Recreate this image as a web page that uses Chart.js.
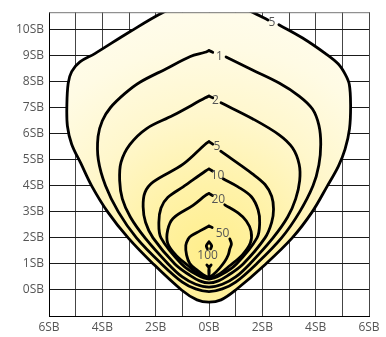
<!DOCTYPE html>
<html>
<head>
<meta charset="utf-8">
<script src="https://cdn.jsdelivr.net/npm/chart.js@4.4.0/dist/chart.umd.min.js"></script>
<style>
  html, body { margin: 0; padding: 0; background: #fff; }
</style>
</head>
<body>
<canvas id="isolux" width="386" height="337"></canvas>
<script>
// tick values (in SB units)
const xTickValues = [-6, -5, -4, -3, -2, -1, 0, 1, 2, 3, 4, 5, 6];
const yTickValues = [-1, 0, 1, 2, 3, 4, 5, 6, 7, 8, 9, 10];

// isolux outlines, [x, y] in SB; null = gap left for the level label
const c05 = [[0, 11.45], [1.63, 10.67], [2.21, 10.37], null, [2.62, 10.19], [3.51, 9.68], [4.37, 9.08], [4.85, 8.68],
  [5.1, 8.3], [5.26, 7.9], [5.31, 7.1], [5.27, 6.2], [5.1, 5.4], [4.85, 4.75], [4.44, 4.0], [3.87, 3.0], [3.12, 2.0],
  [2.13, 1.0], [1.0, 0.0], [0.45, -0.38], [0, -0.47], [-0.45, -0.38], [-1.03, 0.0], [-2.09, 1.0],
  [-3.03, 2.0], [-3.8, 3.0], [-4.4, 4.0], [-4.8, 4.85], [-5.15, 5.6], [-5.31, 6.3], [-5.33, 7.1],
  [-5.28, 7.94], [-5.15, 8.39], [-4.84, 8.76], [-4.28, 9.08], [-3.03, 9.88], [-1.71, 10.67], [0, 11.45]];
const c1 = [[0, 9.2], [0.14, 9.13], null, [0.64, 8.95], [1.63, 8.45], [2.63, 7.95], [3.38, 7.45], [3.88, 6.95],
  [4.12, 6.33], [4.19, 5.6], [4.12, 4.8], [3.9, 4.0], [3.4, 3.0], [2.72, 2.0], [1.78, 1.0], [1.0, 0.3],
  [0.5, 0.04], [0, -0.06], [-0.5, 0.04], [-1.0, 0.3], [-1.78, 1.0], [-2.72, 2.0], [-3.4, 3.0], [-3.88, 4.0],
  [-4.15, 5.0], [-4.16, 5.9], [-4.0, 6.5], [-3.7, 7.0], [-3.15, 7.55], [-2.59, 7.98], [-1.6, 8.5], [-0.7, 8.97],
  [-0.15, 9.13], [0, 9.2]];
const c2 = [[0, 7.45], [0.14, 7.38], null, [0.45, 7.19], [1.63, 6.58], [2.63, 5.96], [3.13, 5.46], [3.38, 4.83],
  [3.4, 4.2], [3.25, 3.5], [2.95, 2.8], [2.4, 2.0], [1.53, 1.0], [1.0, 0.5], [0.5, 0.22], [0, 0.11],
  [-0.5, 0.22], [-1.0, 0.5], [-1.53, 1.0], [-2.4, 2.0], [-2.95, 2.8], [-3.25, 3.5], [-3.35, 4.2],
  [-3.3, 4.9], [-2.97, 5.58], [-2.34, 6.2], [-1.36, 6.7], [-0.14, 7.38], [0, 7.45]];
const c5 = [[0, 5.7], [0.14, 5.6], null, [0.44, 5.33], [1.63, 4.46], [2.1, 4.05], [2.35, 3.6], [2.42, 3.1],
  [2.35, 2.6], [2.1, 2.0], [1.28, 1.0], [0.7, 0.55], [0.35, 0.35], [0, 0.27], [-0.35, 0.35], [-0.7, 0.55],
  [-1.28, 1.0], [-2.1, 2.0], [-2.38, 2.6], [-2.47, 3.2], [-2.4, 3.75], [-2.09, 4.15], [-0.97, 4.83], [-0.14, 5.6], [0, 5.7]];
const c10 = [[0, 4.65], [0.13, 4.57], null, [0.53, 4.27], [1.09, 3.96], [1.59, 3.58], [1.84, 3.08], [1.9, 2.58],
  [1.8, 2.0], [1.03, 1.0], [0.45, 0.58], [0, 0.42], [-0.45, 0.58], [-1.03, 1.0], [-1.8, 2.0], [-1.88, 2.6],
  [-1.8, 3.15], [-1.55, 3.55], [-0.97, 3.96], [-0.13, 4.57], [0, 4.65]];
const c20 = [[0, 3.71], [0.13, 3.63], null, [0.59, 3.27], [1.09, 2.96], [1.4, 2.65], [1.58, 2.25], [1.55, 1.8],
  [1.25, 1.35], [0.8, 0.95], [0.4, 0.62], [0, 0.46], [-0.4, 0.62], [-0.8, 0.95], [-1.25, 1.35], [-1.55, 1.8],
  [-1.55, 2.3], [-1.35, 2.75], [-0.6, 3.25], [-0.13, 3.63], [0, 3.71]];
const c50 = [[0, 2.46], [0.12, 2.4], null, [0.78, 1.96], [0.84, 1.77], [0.78, 1.58], [0.72, 1.34], [0.59, 1.09],
  [0.4, 0.84], [0.16, 0.59], [0, 0.5], [-0.22, 0.59], [-0.47, 0.78], [-0.72, 1.02], [-0.84, 1.34],
  [-0.87, 1.71], [-0.78, 1.96], [-0.66, 2.09], [-0.34, 2.27], [0, 2.46]];
const c100 = [[0, 1.85], [0.1, 1.7], [0.06, 1.58], null, [0.08, 0.96], [0, 0.84], [0, 0.55], [0, 0.84],
  [-0.08, 0.96], null, [-0.06, 1.58], [-0.1, 1.7], [0, 1.85]];

// level labels
const labelText = ['5', '1', '2', '5', '10', '20', '50', '100'];
const labelX = [2.36, 0.39, 0.24, 0.3, 0.32, 0.35, 0.51, -0.05];
const labelY = [10.26, 8.95, 7.29, 5.52, 4.39, 3.46, 2.15, 1.34];

const toPoints = arr => arr.map(p => p ? { x: p[0], y: p[1] } : { x: null, y: null });

Chart.defaults.font.family = "'Open Sans', sans-serif";

function glowFill(context) {
    const chart = context.chart;
    if (!chart.chartArea) return '#fff6c8';
    const cx = chart.scales.x.getPixelForValue(0);
    const cy = chart.scales.y.getPixelForValue(1.3);
    const g = chart.ctx.createRadialGradient(cx, cy, 0, cx, cy, 280);
    g.addColorStop(0, '#ffee8a');
    g.addColorStop(0.25, '#fff2a8');
    g.addColorStop(0.5, '#fff7cc');
    g.addColorStop(0.75, '#fffbe4');
    g.addColorStop(1, '#fffdf2');
    return g;
}

const strokeStyle = {
    showLine: true,
    borderColor: '#000',
    borderWidth: 2.8,
    pointRadius: 0,
    tension: 0.35,
    fill: false,
    borderJoinStyle: 'round',
    borderCapStyle: 'round',
    order: 1
};

const outlines = [c05, c1, c2, c5, c10, c20, c50, c100];
const datasets = [{
    // light glow under the outermost line
    data: toPoints(c05.filter(p => p)),
    showLine: true,
    borderWidth: 0,
    pointRadius: 0,
    tension: 0.35,
    fill: 'shape',
    backgroundColor: glowFill,
    order: 10
}].concat(outlines.map(o => Object.assign({ data: toPoints(o) }, strokeStyle)));

// level labels + top frame line
const overlay = {
    id: 'overlay',
    afterDraw(chart) {
        const { ctx, chartArea, scales } = chart;
        ctx.save();
        ctx.strokeStyle = '#777';
        ctx.lineWidth = 1;
        ctx.beginPath();
        ctx.moveTo(chartArea.left, chartArea.top + 0.5);
        ctx.lineTo(chartArea.right + 0.5, chartArea.top + 0.5);
        ctx.stroke();
        ctx.font = "12px 'Open Sans', sans-serif";
        ctx.fillStyle = '#555';
        ctx.textAlign = 'center';
        ctx.textBaseline = 'middle';
        labelText.forEach((t, i) => {
            ctx.fillText(t, scales.x.getPixelForValue(labelX[i]), scales.y.getPixelForValue(labelY[i]));
        });
        ctx.restore();
    }
};

new Chart(document.getElementById('isolux'), {
    type: 'scatter',
    data: { datasets },
    options: {
        responsive: false,
        animation: false,
        devicePixelRatio: 1,
        layout: { padding: { top: 4, right: 17, left: 0, bottom: 0 } },
        plugins: { legend: { display: false }, tooltip: { enabled: false } },
        scales: {
            x: {
                type: 'linear',
                min: -6,
                max: 6,
                z: 1,
                afterBuildTicks: s => { s.ticks = xTickValues.map(v => ({ value: v })); },
                afterFit: s => { s.height = 21; },
                ticks: {
                    autoSkip: false,
                    maxRotation: 0,
                    padding: 4,
                    color: '#555',
                    font: { size: 12 },
                    callback: v => v % 2 === 0 ? Math.abs(v) + 'SB' : ''
                },
                grid: { color: '#454545', drawTicks: false },
                border: { color: '#000' }
            },
            y: {
                type: 'linear',
                min: -1,
                max: 10.67,
                z: 1,
                afterBuildTicks: s => { s.ticks = yTickValues.map(v => ({ value: v })); },
                afterFit: s => { s.width = 49; },
                ticks: {
                    autoSkip: false,
                    padding: 5,
                    color: '#555',
                    font: { size: 12 },
                    callback: v => v >= 0 ? v + 'SB' : ''
                },
                grid: { color: '#1a1a1a', drawTicks: false },
                border: { color: '#000' }
            }
        }
    },
    plugins: [overlay]
});
</script>
</body>
</html>
